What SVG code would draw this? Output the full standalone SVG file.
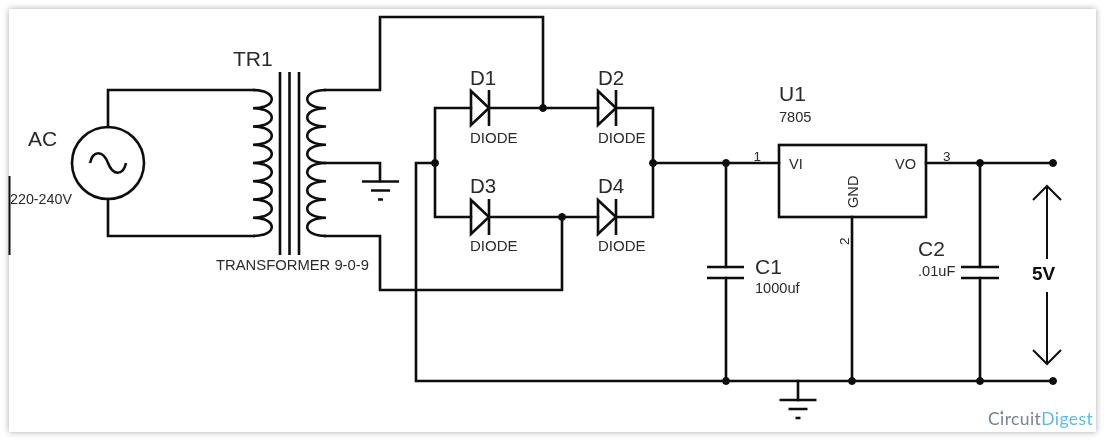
<svg xmlns="http://www.w3.org/2000/svg" width="1104" height="440" viewBox="0 0 1104 440">
<style>
.w{fill:none;stroke:#111;stroke-width:2.6;stroke-linejoin:miter;stroke-linecap:square}
.n{fill:none;stroke:#111;stroke-width:2.6}
.dot{fill:#111;stroke:#111;stroke-width:1}
text{font-family:"Liberation Sans",Arial,sans-serif;fill:#2a2a2a}
.big{font-size:21px}
.mid{font-size:20.5px}
.lab{font-size:14.600px}
.pin{font-size:13.500px}
</style>
<defs>
<filter id="soft" x="-5%" y="-5%" width="110%" height="110%"><feGaussianBlur stdDeviation="0.45"/></filter>
<filter id="shadow" x="-5%" y="-10%" width="110%" height="120%"><feGaussianBlur stdDeviation="3"/></filter>
<g id="diode"><path class="n" d="M0,-17 L18,0 L0,17 Z"/><path class="n" d="M18,-18 V18"/></g>
<g id="gnd"><path class="n" d="M-18.500,0 H18.500 M-9.500,9 H9.500 M-2.500,18 H2.500"/></g>
</defs>
<rect width="1104" height="440" fill="#fff"/>
<rect x="9" y="9" width="1087" height="423" fill="#a8a8a8" filter="url(#shadow)"/>
<rect x="9" y="9" width="1087" height="423" fill="#fff"/>
<g filter="url(#soft)">
<rect x="8.500" y="176" width="2" height="79" fill="#111"/>
<g id="connectors">
<path class="w" d="M108,127 V90 H254"/>
<path class="w" d="M108,199 V236 H254"/>
<path class="w" d="M325,90 H380 V17 H543 V108"/>
<path class="w" d="M325,163 H380 V181"/>
<path class="w" d="M325,236 H380 V290 H562 V217"/>
<path class="w" d="M471,108 H435 V217 H471 M489,108 H598 M616,108 H653 V217 H616 M598,217 H489"/>
<path class="w" d="M435,163 H416 V381 H1053"/>
<path class="w" d="M653,163 H779"/>
<path class="w" d="M926,163 H1053"/>
<path class="w" d="M726,163 V267 M726,278 V381"/>
<path class="w" d="M980,163 V267 M980,278 V381"/>
<path class="w" d="M852,217 V381"/>
<path class="w" d="M798,381 V400"/>
<path d="M1047,186 V259 M1047,292 V364 M1033,200 L1047,186 L1061,200 M1033,350 L1047,364 L1061,350" fill="none" stroke="#111" stroke-width="2"/>
<g class="dots">
<circle class="dot" cx="543" cy="108" r="3.500"/><circle class="dot" cx="435" cy="163" r="3.500"/><circle class="dot" cx="653" cy="163" r="3.500"/><circle class="dot" cx="562" cy="217" r="3.500"/>
<circle class="dot" cx="726" cy="163" r="3.500"/><circle class="dot" cx="980" cy="163" r="3.500"/><circle class="dot" cx="726" cy="381" r="3.500"/><circle class="dot" cx="852" cy="381" r="3.500"/><circle class="dot" cx="980" cy="381" r="3.500"/>
<circle class="dot" cx="1053" cy="163" r="3.500"/><circle class="dot" cx="1053" cy="381" r="3.500"/>
</g>
</g>
<g id="AC">
<circle class="n" cx="108" cy="163" r="36"/>
<path class="n" d="M90,163 C93,150 103,150 108,163 C113,176 123,176 126,163"/>
<text class="big" x="28" y="146">AC</text>
<text x="10" y="204" font-size="14.300">220-240V</text>
</g>
<g id="TR1">
<path class="n" d="M253,90 c25,0 25,18.250 0,18.250 c25,0 25,18.250 0,18.250 c25,0 25,18.250 0,18.250 c25,0 25,18.250 0,18.250 c25,0 25,18.250 0,18.250 c25,0 25,18.250 0,18.250 c25,0 25,18.250 0,18.250 c25,0 25,18.250 0,18.250"/>
<path class="n" d="M326,90 c-25,0 -25,18.250 0,18.250 c-25,0 -25,18.250 0,18.250 c-25,0 -25,18.250 0,18.250 c-25,0 -25,18.250 0,18.250 c-25,0 -25,18.250 0,18.250 c-25,0 -25,18.250 0,18.250 c-25,0 -25,18.250 0,18.250 c-25,0 -25,18.250 0,18.250"/>
<path class="n" d="M280,72 V255 M289.500,72 V255 M299,72 V255"/>
<text class="big" x="233" y="66">TR1</text>
<text x="216" y="270" font-size="14.800">TRANSFORMER 9-0-9</text>
</g>
<g id="GND1"><use href="#gnd" x="380.500" y="181.500"/></g>
<g id="D1"><use href="#diode" x="471" y="108"/><text class="mid" x="470" y="85">D1</text><text x="470" y="143" font-size="15">DIODE</text></g>
<g id="D2"><use href="#diode" x="598" y="108"/><text class="mid" x="598" y="85">D2</text><text x="598" y="143" font-size="15">DIODE</text></g>
<g id="D3"><use href="#diode" x="471" y="217"/><text class="mid" x="470" y="193">D3</text><text x="470" y="251" font-size="15">DIODE</text></g>
<g id="D4"><use href="#diode" x="598" y="217"/><text class="mid" x="598" y="193">D4</text><text x="598" y="251" font-size="15">DIODE</text></g>
<g id="U1">
<rect class="n" x="779" y="145" width="147" height="72" fill="#fff"/>
<text class="big" x="779" y="100.500">U1</text>
<text class="lab" x="779" y="121.500">7805</text>
<text class="lab" x="789" y="169">VI</text>
<text class="lab" x="895" y="169">VO</text>
<text class="lab" transform="translate(858,208) rotate(-90)">GND</text>
<text class="pin" x="753.500" y="161">1</text>
<text class="pin" x="943" y="161">3</text>
<text class="pin" transform="translate(849,245) rotate(-90)">2</text>
</g>
<g id="C1"><path class="n" d="M707,267 H744 M707,278 H744"/><text class="big" x="755" y="273.500">C1</text><text class="lab" x="755" y="293">1000uf</text></g>
<g id="C2"><path class="n" d="M961,267 H999 M961,278 H999"/><text class="big" x="918" y="255.500">C2</text><text class="lab" x="918" y="276">.01uF</text></g>
<g id="GND2"><use href="#gnd" x="798" y="400"/></g>
<text x="1032" y="280" font-size="19" font-weight="700" style="fill:#111">5V</text>
<g id="logo"><text x="988" y="425" font-size="17.500" letter-spacing="0.400" style="font-family:Lato,'Liberation Sans',sans-serif;fill:#76858c">Circuit<tspan style="fill:#62b9e2">Digest</tspan></text><path d="M1000.500,413.500 L1002.500,410.500" stroke="#76858c" stroke-width="1.200"/></g>
</g>
</svg>
